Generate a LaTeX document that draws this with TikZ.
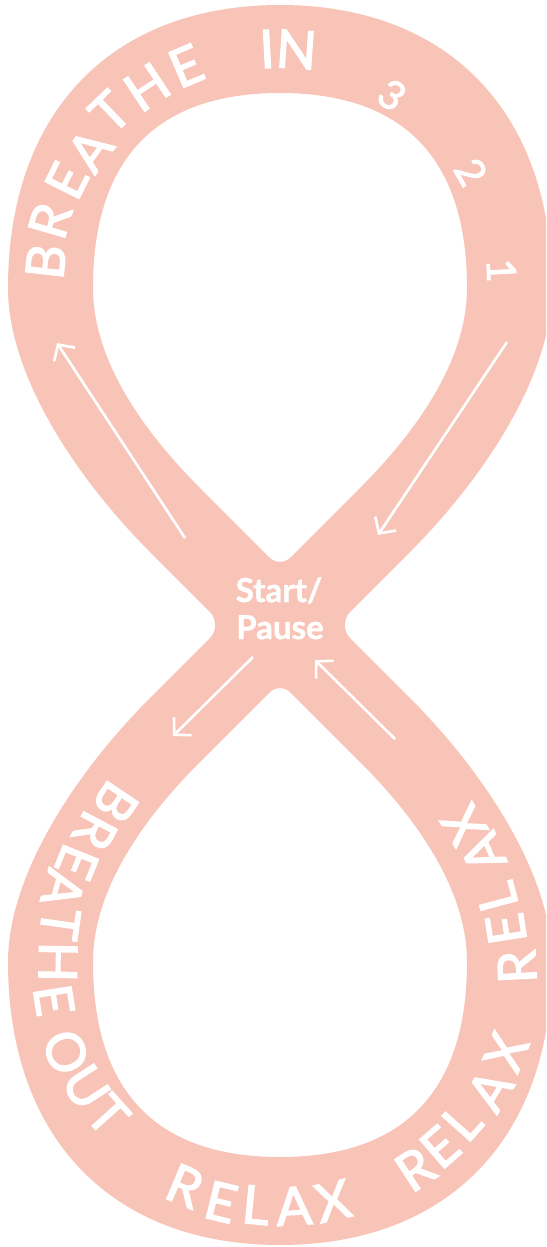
\documentclass[tikz,border=0pt]{standalone}
\usepackage{fontspec}
\setmainfont{Lato}
\newfontfamily\ringfont{Lato}[FakeBold=2.5]
\newfontfamily\labelfont{Lato}[BoldFeatures={FakeBold=1.2}]
\usetikzlibrary{arrows.meta}
\definecolor{bandpink}{HTML}{F9C4B8}
\newcommand\ringch[5]{\node[ring,rotate=#4] (#1) at (#2,#3) {#5};}
\newcommand\digch[5]{\node[digit,rotate=#4] (#1) at (#2,#3) {#5};}
\begin{document}
\begin{tikzpicture}[x=1pt,y=-1pt,
  ring/.style={text=white, inner sep=0pt, font=\ringfont\fontsize{53}{53}\selectfont},
  digit/.style={text=white, inner sep=0pt, font=\ringfont\fontsize{40}{40}\selectfont},
  label/.style={text=white, inner sep=0pt, anchor=base, font=\labelfont\bfseries\fontsize{33}{33}\selectfont},
  flow/.style={draw=white, line width=2.6pt, -{Straight Barb[length=12pt,width=25pt]}}]
\clip (0,0) rectangle (546,1247);
% band: outer outline with two holes
\fill[bandpink, even odd rule]
  (209.6,611.6) -- (150,552) .. controls (80,482) and (8,378) .. (8,288)
  .. controls (8,112.5) and (111.4,5) .. (280,5)
  .. controls (448.6,5) and (552,112.5) .. (552,288)
  .. controls (552,378) and (480,482) .. (410,552)
  -- (350.4,611.6) .. controls (343,619) and (343,631) .. (350.4,638.4)
  -- (410,698) .. controls (480,768) and (552,872) .. (552,962)
  .. controls (552,1137.5) and (448.6,1245) .. (280,1245)
  .. controls (111.4,1245) and (8,1137.5) .. (8,962)
  .. controls (8,872) and (80,768) .. (150,698)
  -- (209.6,638.4) .. controls (217,631) and (217,619) .. (209.6,611.6) -- cycle
  (269.4,557.4) -- (200,488) .. controls (140,428) and (93,358) .. (93,288)
  .. controls (93,159) and (156,93) .. (280,93)
  .. controls (404,93) and (467,159) .. (467,288)
  .. controls (467,358) and (420,428) .. (360,488)
  -- (290.6,557.4) .. controls (284.75,563.25) and (275.25,563.25) .. (269.4,557.4) -- cycle
  (269.4,692.6) -- (200,762) .. controls (140,822) and (93,892) .. (93,962)
  .. controls (93,1091) and (156,1157) .. (280,1157)
  .. controls (404,1157) and (467,1091) .. (467,962)
  .. controls (467,892) and (420,822) .. (360,762)
  -- (290.6,692.6) .. controls (284.75,686.75) and (275.25,686.75) .. (269.4,692.6) -- cycle;
% BREATHE IN 3 2 1
\ringch{t1}{45.7}{261.7}{83.6}{B}
\ringch{t2}{50}{220.7}{73.7}{R}
\ringch{t3}{66.7}{180.7}{63.3}{E}
\ringch{t4}{90}{150}{54}{A}
\ringch{t5}{110}{112}{44}{T}
\ringch{t6}{147}{87}{33.5}{H}
\ringch{t7}{186}{66}{23}{E}
\ringch{t8}{267}{49}{3.1}{I}
\ringch{t9}{296.5}{49.5}{-4}{N}
\digch{d3}{392}{95}{-35}{3}
\digch{d2}{471}{172}{-60}{2}
\digch{d1}{501.5}{270.5}{-87}{1}
% BREATHE OUT
\ringch{b1}{116}{802}{-124}{B}
\ringch{b2}{95}{831}{-118}{R}
\ringch{b3}{77}{862}{-112}{E}
\ringch{b4}{63}{889}{-105}{A}
\ringch{b5}{60}{924}{-98}{T}
\ringch{b6}{58}{962}{-91}{H}
\ringch{b7}{54}{1000}{-81}{E}
\ringch{b8}{66}{1052}{-68}{O}
\ringch{b9}{86}{1087}{-57}{U}
\ringch{b10}{108}{1115}{-48}{T}
% RELAX (bottom)
\ringch{r1}{185}{1186}{-23}{R}
\ringch{r2}{221}{1202}{-13.8}{E}
\ringch{r3}{256}{1205}{-5.6}{L}
\ringch{r4}{294}{1206}{3.3}{A}
\ringch{r5}{333}{1201}{12.5}{X}
% RELAX (bottom right)
\ringch{s1}{415}{1169}{33.4}{R}
\ringch{s2}{440}{1147}{40.9}{E}
\ringch{s3}{462}{1122}{48.3}{L}
\ringch{s4}{490}{1090}{58.6}{A}
\ringch{s5}{506}{1052}{68}{X}
% RELAX (right side)
\ringch{u1}{517}{967}{93}{R}
\ringch{u2}{506}{929}{99}{E}
\ringch{u3}{497}{897}{105}{L}
\ringch{u4}{483}{853}{113}{A}
\ringch{u5}{464}{825}{121}{X}
% centre label
\node[label] (start) at (279,602) {Start/};
\node[label] (pause) at (280,639) {Pause};
% arrows
\coordinate (a1s) at (507,342); \coordinate (a1e) at (378,535);
\coordinate (a2s) at (185,538); \coordinate (a2e) at (57,343);
\coordinate (a3s) at (253,657); \coordinate (a3e) at (173,736);
\coordinate (a4s) at (395,739); \coordinate (a4e) at (315,660);
\draw[flow] (a1s) -- (a1e);
\draw[flow] (a2s) -- (a2e);
\draw[flow] (a3s) -- (a3e);
\draw[flow] (a4s) -- (a4e);
\end{tikzpicture}
\end{document}
